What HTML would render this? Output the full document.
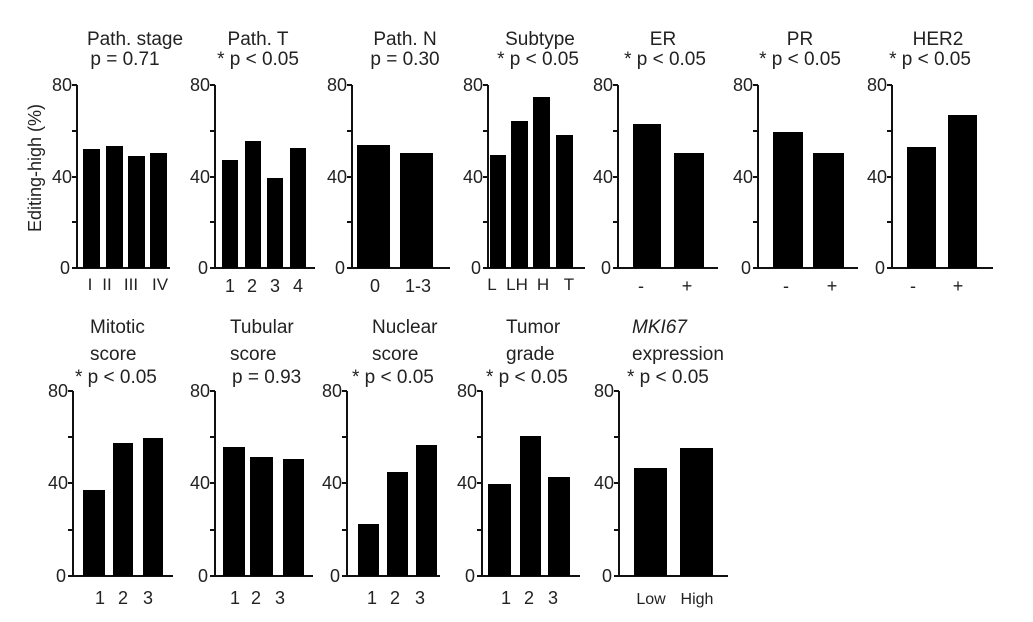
<!DOCTYPE html>
<html><head><meta charset="utf-8"><style>
html,body{margin:0;padding:0;background:#fff;}
svg{display:block;font-family:"Liberation Sans",Arial,sans-serif;}
text{fill:#222;}
.t{font-size:19px;}
.k{font-size:18px;}
</style></head><body>
<svg width="1033" height="622" viewBox="0 0 1033 622" xmlns="http://www.w3.org/2000/svg">
<g stroke="#111" stroke-width="2" fill="none">
<path d="M77 85V268H170M72 85H77M72 131H77M72 177H77M72 222H77M72 268H77"/>
<path d="M215 85V268H315M210 85H215M210 131H215M210 177H215M210 222H215M210 268H215"/>
<path d="M352 85V268H450M347 85H352M347 131H352M347 177H352M347 222H352M347 268H352"/>
<path d="M488 85V268H585M483 85H488M483 131H488M483 177H488M483 222H488M483 268H488"/>
<path d="M618 85V268H718M613 85H618M613 131H618M613 177H618M613 222H618M613 268H618"/>
<path d="M758 85V268H858M753 85H758M753 131H758M753 177H758M753 222H758M753 268H758"/>
<path d="M892 85V268H993M887 85H892M887 131H892M887 177H892M887 222H892M887 268H892"/>
<path d="M73 391V576H173M68 391H73M68 437H73M68 483H73M68 530H73M68 576H73"/>
<path d="M215 391V576H313M210 391H215M210 437H215M210 483H215M210 530H215M210 576H215"/>
<path d="M347 391V576H440M342 391H347M342 437H347M342 483H347M342 530H347M342 576H347"/>
<path d="M482 391V576H580M477 391H482M477 437H482M477 483H482M477 530H482M477 576H482"/>
<path d="M619 391V576H728M614 391H619M614 437H619M614 483H619M614 530H619M614 576H619"/>
</g>
<g fill="#000">
<rect x="83" y="149" width="17" height="119"/><rect x="106" y="146" width="17" height="122"/><rect x="128" y="156" width="17" height="112"/><rect x="150" y="153" width="17" height="115"/>
<rect x="222" y="160" width="16" height="108"/><rect x="245" y="141" width="16" height="127"/><rect x="267" y="178" width="16" height="90"/><rect x="290" y="148" width="16" height="120"/>
<rect x="357" y="145" width="33" height="123"/><rect x="400" y="153" width="33" height="115"/>
<rect x="490" y="155" width="16" height="113"/><rect x="511" y="121" width="17" height="147"/><rect x="533" y="97" width="17" height="171"/><rect x="556" y="135" width="17" height="133"/>
<rect x="633" y="124" width="28" height="144"/><rect x="674" y="153" width="30" height="115"/>
<rect x="773" y="132" width="30" height="136"/><rect x="813" y="153" width="31" height="115"/>
<rect x="907" y="147" width="29" height="121"/><rect x="948" y="115" width="29" height="153"/>
<rect x="83" y="490" width="22" height="86"/><rect x="113" y="443" width="20" height="133"/><rect x="143" y="438" width="20" height="138"/>
<rect x="223" y="447" width="22" height="129"/><rect x="250" y="457" width="23" height="119"/><rect x="283" y="459" width="21" height="117"/>
<rect x="358" y="524" width="21" height="52"/><rect x="387" y="472" width="21" height="104"/><rect x="416" y="445" width="21" height="131"/>
<rect x="488" y="484" width="23" height="92"/><rect x="520" y="436" width="21" height="140"/><rect x="548" y="477" width="22" height="99"/>
<rect x="634" y="468" width="33" height="108"/><rect x="680" y="448" width="33" height="128"/>
</g>
<g class="t" text-anchor="middle">
<text x="135" y="45">Path. stage</text><text x="125" y="65">p = 0.71</text>
<text x="258" y="45">Path. T</text><text x="258" y="65">* p &lt; 0.05</text>
<text x="405" y="45">Path. N</text><text x="405" y="65">p = 0.30</text>
<text x="540" y="45">Subtype</text><text x="538" y="65">* p &lt; 0.05</text>
<text x="663" y="45">ER</text><text x="665" y="65">* p &lt; 0.05</text>
<text x="800" y="45">PR</text><text x="800" y="65">* p &lt; 0.05</text>
<text x="938" y="45">HER2</text><text x="930" y="65">* p &lt; 0.05</text>
</g>
<g class="t">
<text x="90" y="333">Mitotic</text><text x="90" y="360">score</text><text x="75" y="383">* p &lt; 0.05</text>
<text x="230" y="333">Tubular</text><text x="230" y="360">score</text><text x="232" y="383">p = 0.93</text>
<text x="372" y="333">Nuclear</text><text x="372" y="360">score</text><text x="352" y="383">* p &lt; 0.05</text>
<text x="506" y="333">Tumor</text><text x="506" y="360">grade</text><text x="486" y="383">* p &lt; 0.05</text>
<text x="632" y="333" font-style="italic">MKI67</text><text x="632" y="360">expression</text><text x="627" y="383">* p &lt; 0.05</text>
</g>
<g class="k" text-anchor="end">
<text x="72" y="91">80</text><text x="72" y="183">40</text><text x="70" y="274">0</text>
<text x="210" y="91">80</text><text x="210" y="183">40</text><text x="208" y="274">0</text>
<text x="347" y="91">80</text><text x="347" y="183">40</text><text x="345" y="274">0</text>
<text x="483" y="91">80</text><text x="483" y="183">40</text><text x="481" y="274">0</text>
<text x="613" y="91">80</text><text x="613" y="183">40</text><text x="611" y="274">0</text>
<text x="753" y="91">80</text><text x="753" y="183">40</text><text x="751" y="274">0</text>
<text x="887" y="91">80</text><text x="887" y="183">40</text><text x="885" y="274">0</text>
<text x="68" y="397">80</text><text x="68" y="489">40</text><text x="66" y="582">0</text>
<text x="210" y="397">80</text><text x="210" y="489">40</text><text x="208" y="582">0</text>
<text x="342" y="397">80</text><text x="342" y="489">40</text><text x="340" y="582">0</text>
<text x="477" y="397">80</text><text x="477" y="489">40</text><text x="475" y="582">0</text>
<text x="614" y="397">80</text><text x="614" y="489">40</text><text x="612" y="582">0</text>
</g>
<g text-anchor="middle">
<g font-size="17"><text x="90" y="290">I</text><text x="107" y="290">II</text><text x="131" y="290">III</text><text x="160" y="290">IV</text>
<text x="492" y="290">L</text><text x="517" y="290">LH</text><text x="543" y="290">H</text><text x="569" y="290">T</text></g>
<g class="k"><text x="230" y="292">1</text><text x="252" y="292">2</text><text x="275" y="292">3</text><text x="298" y="292">4</text>
<text x="375" y="292">0</text><text x="418" y="292">1-3</text>
<text x="641" y="292">-</text><text x="687" y="292">+</text>
<text x="786" y="292">-</text><text x="832" y="292">+</text>
<text x="913" y="292">-</text><text x="958" y="292">+</text>
<text x="100" y="604">1</text><text x="123" y="604">2</text><text x="148" y="604">3</text>
<text x="235" y="604">1</text><text x="256" y="604">2</text><text x="280" y="604">3</text>
<text x="372" y="604">1</text><text x="395" y="604">2</text><text x="420" y="604">3</text>
<text x="506" y="604">1</text><text x="529" y="604">2</text><text x="553" y="604">3</text></g>
<g font-size="16"><text x="651" y="604">Low</text><text x="697" y="604">High</text></g>
</g>
<text x="41" y="168" font-size="18" text-anchor="middle" transform="rotate(-90 41 168)">Editing-high (%)</text>
</svg>
</body></html>
